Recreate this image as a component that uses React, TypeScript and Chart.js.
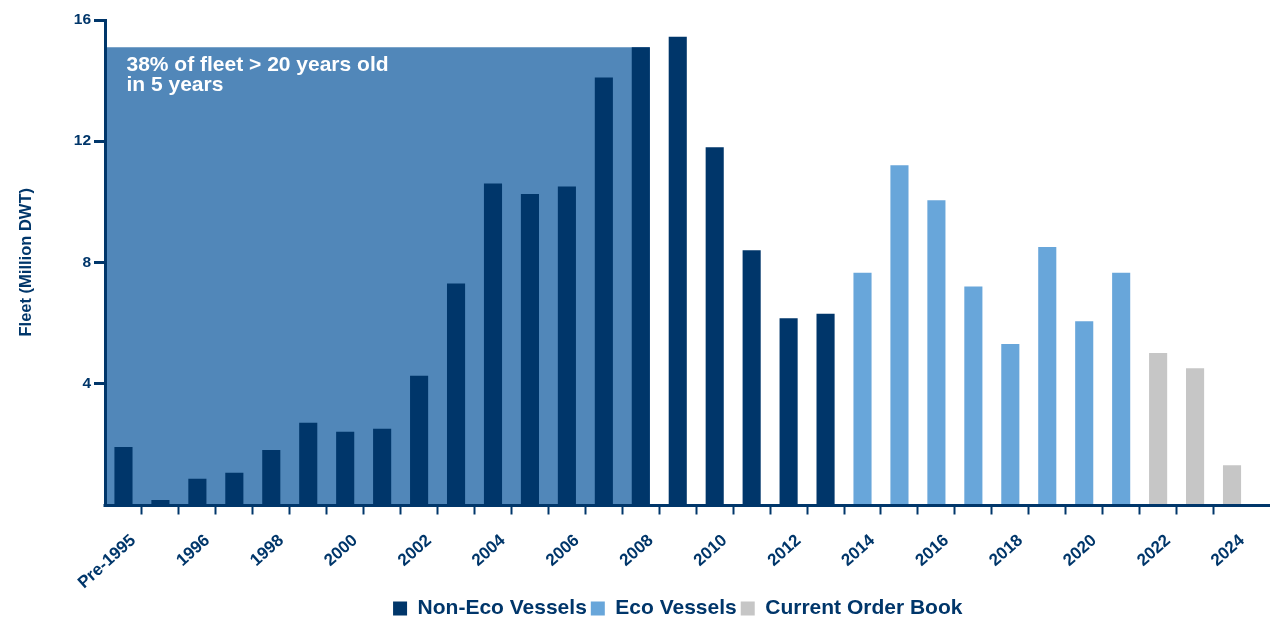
import React, { useEffect, useRef } from "react";
import { Chart, registerables } from "chart.js";

Chart.register(...registerables);

// Delivery year of each vessel group
const years = [
  "Pre-1995", "1995", "1996", "1997", "1998", "1999", "2000", "2001", "2002", "2003",
  "2004", "2005", "2006", "2007", "2008", "2009", "2010", "2011", "2012", "2013",
  "2014", "2015", "2016", "2017", "2018", "2019", "2020", "2021", "2022", "2023", "2024",
];

// Fleet, million DWT
const nonEcoVessels: (number | null)[] = [
  1.9, 0.15, 0.85, 1.05, 1.8, 2.7, 2.4, 2.5, 4.25, 7.3,
  10.6, 10.25, 10.5, 14.1, 15.1, 15.45, 11.8, 8.4, 6.15, 6.3,
  null, null, null, null, null, null, null, null, null, null, null,
];
const ecoVessels: (number | null)[] = [
  null, null, null, null, null, null, null, null, null, null,
  null, null, null, null, null, null, null, null, null, null,
  7.65, 11.2, 10.05, 7.2, 5.3, 8.5, 6.05, 7.65, null, null, null,
];
const currentOrderBook: (number | null)[] = [
  null, null, null, null, null, null, null, null, null, null,
  null, null, null, null, null, null, null, null, null, null,
  null, null, null, null, null, null, null, null, 5.0, 4.5, 1.3,
];

const yTickValues = [4, 8, 12, 16];

// Vessels built up to this year will be over 20 years old in five years
const agedThroughYear = "2008";
const calloutLines = ["38% of fleet > 20 years old", "in 5 years"];

const NAVY = "#00366a";
const ECO_BLUE = "#68a6da";
const ORDER_GREY = "#c6c6c6";
const SHADE_BLUE = "#5187b9";
const FONT = '"Liberation Sans", Arial, Helvetica, sans-serif';

const agedFleetShade = {
  id: "agedFleetShade",
  beforeDraw(chart: any) {
    const { ctx, chartArea, scales } = chart;
    const idx = years.indexOf(agedThroughYear);
    const bar: any = chart.getDatasetMeta(0).data[idx];
    if (!bar) return;
    const right = bar.x + bar.width / 2;
    const top = scales.y.getPixelForValue(nonEcoVessels[idx] as number);
    ctx.save();
    ctx.fillStyle = SHADE_BLUE;
    ctx.fillRect(chartArea.left, top, right - chartArea.left, chartArea.bottom - top);
    ctx.fillStyle = "#ffffff";
    ctx.font = `bold 21px ${FONT}`;
    ctx.textBaseline = "alphabetic";
    ctx.textAlign = "left";
    calloutLines.forEach((line, i) => {
      ctx.fillText(line, chartArea.left + 21.5, top + 24 + i * 20);
    });
    ctx.restore();
  },
};

// Baseline runs from the y axis to the right edge of the canvas
const baseline = {
  id: "baseline",
  afterDatasetsDraw(chart: any) {
    const { ctx, chartArea } = chart;
    ctx.save();
    ctx.strokeStyle = NAVY;
    ctx.lineWidth = 3;
    ctx.beginPath();
    ctx.moveTo(chartArea.left - 1.5, chartArea.bottom + 1);
    ctx.lineTo(chart.width, chartArea.bottom + 1);
    ctx.stroke();
    ctx.restore();
  },
};

export default function App() {
  const canvasRef = useRef<HTMLCanvasElement | null>(null);

  useEffect(() => {
    document.body.style.margin = "0";
    const canvas = canvasRef.current;
    if (!canvas) return;

    const chart = new Chart(canvas, {
      type: "bar",
      data: {
        labels: years,
        datasets: [
          { label: "Non-Eco Vessels", data: nonEcoVessels, backgroundColor: NAVY, borderWidth: 0 },
          { label: "Eco Vessels", data: ecoVessels, backgroundColor: ECO_BLUE, borderWidth: 0 },
          { label: "Current Order Book", data: currentOrderBook, backgroundColor: ORDER_GREY, borderWidth: 0 },
        ],
      },
      plugins: [agedFleetShade, baseline],
      options: {
        animation: false,
        responsive: false,
        devicePixelRatio: 1,
        events: [],
        layout: { padding: { top: 20, right: 19.5, bottom: 2, left: 0 } },
        datasets: {
          bar: { categoryPercentage: 1, barPercentage: 0.49 },
        },
        scales: {
          x: {
            stacked: true,
            offset: true,
            afterFit: (s: any) => {
              s.height = 89.5;
            },
            border: { display: false },
            grid: {
              offset: true,
              drawOnChartArea: false,
              drawTicks: true,
              tickLength: 10,
              tickWidth: 2,
              tickColor: (c: any) =>
                c.type !== "tick" || c.index === 0 ? "rgba(0,0,0,0)" : NAVY,
            },
            ticks: {
              autoSkip: false,
              minRotation: 42,
              maxRotation: 42,
              padding: 16,
              labelOffset: 10,
              color: NAVY,
              font: { family: FONT, size: 17, weight: "bold" },
              callback: (_v: any, i: number) => (i % 2 === 0 ? years[i] : ""),
            },
          },
          y: {
            stacked: true,
            min: 0,
            max: 16,
            afterFit: (s: any) => {
              s.width = 105;
            },
            afterBuildTicks: (s: any) => {
              s.ticks = yTickValues.map((v) => ({ value: v }));
            },
            border: { display: true, color: NAVY, width: 3 },
            grid: {
              drawOnChartArea: false,
              drawTicks: true,
              tickLength: 11,
              tickWidth: 3,
              tickColor: NAVY,
            },
            ticks: {
              padding: 3,
              color: NAVY,
              font: { family: FONT, size: 15.5, weight: "bold" },
            },
            title: {
              display: true,
              text: "Fleet (Million DWT)",
              color: NAVY,
              font: { family: FONT, size: 16.5, weight: "bold" },
              padding: { top: 16.5, bottom: 0 },
            },
          },
        },
        plugins: {
          tooltip: { enabled: false },
          legend: {
            position: "bottom",
            fullSize: false,
            maxHeight: 24,
            labels: {
              boxWidth: 14,
              boxHeight: 14,
              padding: 4,
              color: NAVY,
              font: { family: FONT, size: 21, weight: "bold" },
            },
          },
        },
      },
    } as any);

    return () => chart.destroy();
  }, []);

  return (
    <div style={{ width: 1270, height: 620 }}>
      <canvas ref={canvasRef} width={1270} height={620} style={{ display: "block" }} />
    </div>
  );
}
